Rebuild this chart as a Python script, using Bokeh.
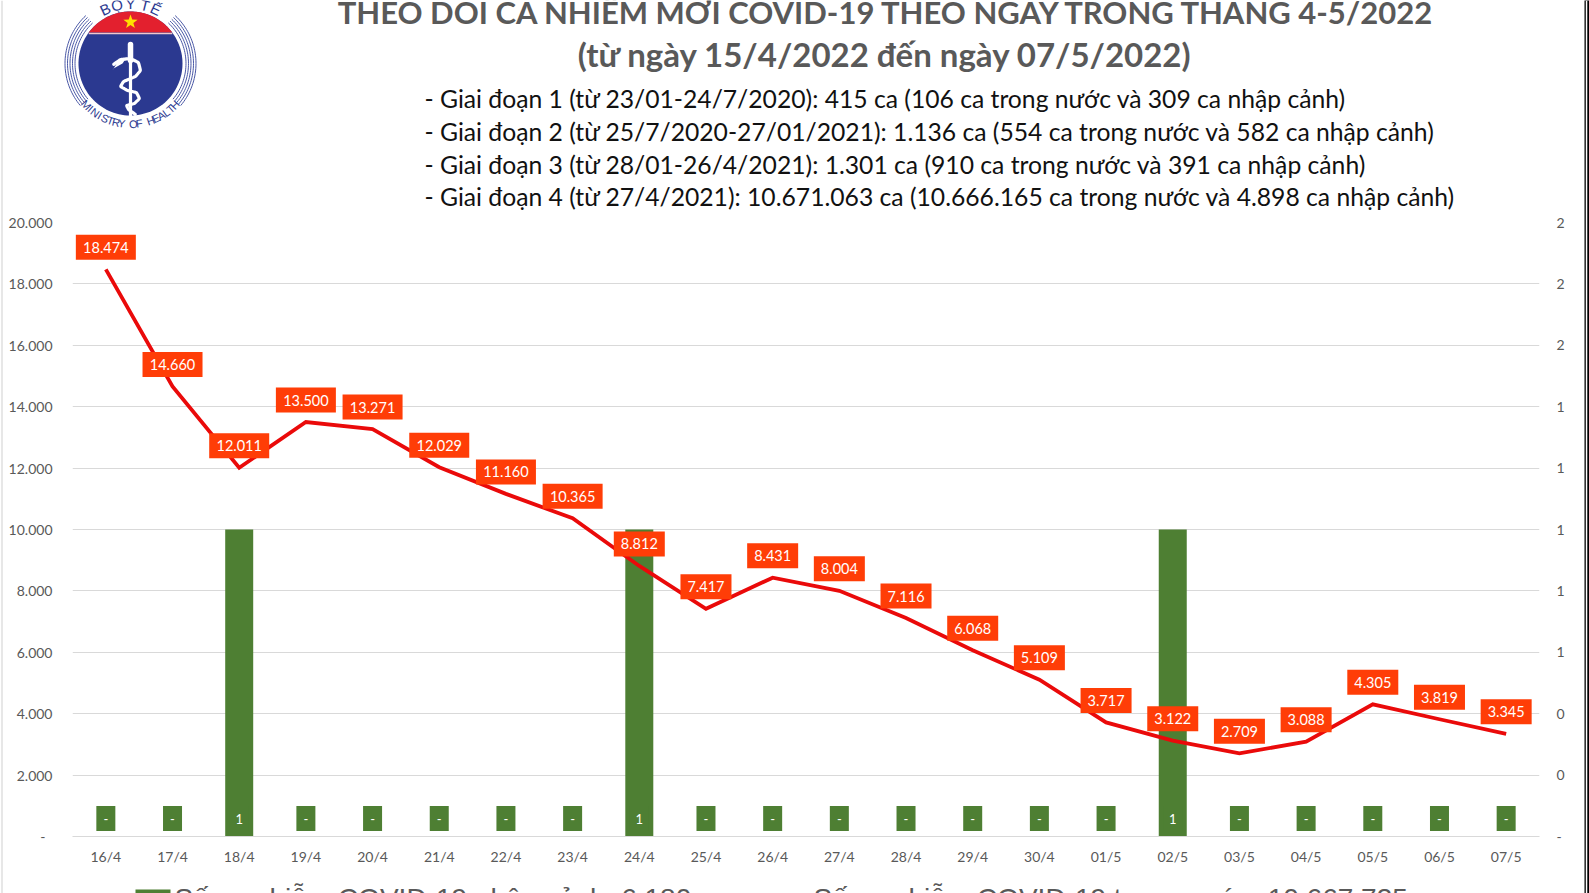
import numpy as np
from bokeh.plotting import figure
from bokeh.models import Range1d, FactorRange, LinearAxis, FixedTicker, ColumnDataSource, Grid
from bokeh.core.properties import value
from bokeh.embed import file_html
from bokeh.resources import INLINE

days = ["16/4","17/4","18/4","19/4","20/4","21/4","22/4","23/4","24/4","25/4","26/4",
        "27/4","28/4","29/4","30/4","01/5","02/5","03/5","04/5","05/5","06/5","07/5"]
domestic = [18474,14660,12011,13500,13271,12029,11160,10365,8812,7417,8431,
            8004,7116,6068,5109,3717,3122,2709,3088,4305,3819,3345]
imported = [0,0,1,0,0,0,0,0,1,0,0,0,0,0,0,0,1,0,0,0,0,0]
left_ticks = [0,2000,4000,6000,8000,10000,12000,14000,16000,18000,20000]
left_labels = ["-\u00a0\u00a0","2.000","4.000","6.000","8.000","10.000","12.000","14.000","16.000","18.000","20.000"]
right_ticks = [0,0.2,0.4,0.6,0.8,1.0,1.2,1.4,1.6,1.8,2.0]
right_labels = ["-","0","0","1","1","1","1","1","2","2","2"]
title_lines = ["THEO DÕI CA NHIỄM MỚI COVID-19 THEO NGÀY TRONG THÁNG 4-5/2022",
               "(từ ngày 15/4/2022 đến ngày 07/5/2022)"]
period_lines = ["- Giai đoạn 1 (từ 23/01-24/7/2020): 415 ca (106 ca trong nước và 309 ca nhập cảnh)",
                "- Giai đoạn 2 (từ 25/7/2020-27/01/2021): 1.136 ca (554 ca trong nước và 582 ca nhập cảnh)",
                "- Giai đoạn 3 (từ 28/01-26/4/2021): 1.301 ca (910 ca trong nước và 391 ca nhập cảnh)",
                "- Giai đoạn 4 (từ 27/4/2021): 10.671.063 ca (10.666.165 ca trong nước và 4.898 ca nhập cảnh)"]
legend_left = "Số ca nhiễm COVID-19 nhập cảnh: 6.180 ca"
legend_right = "Số ca nhiễm COVID-19 trong nước: 10.667.735 ca"

CAL = value("Lato")
GREY = "#595959"
GREEN = "#4E7F33"
ORANGE = "#FF3D07"
RED = "#EA0A0A"
GRID = "#D9D9D9"
NAVY = "#2B3990"
W, HEAD_H, CHART_H, FOOT_H = 1589, 212, 658, 23

def bare(w, h, xr, yr, **kw):
    f = figure(width=w, height=h, x_range=xr, y_range=yr, output_backend="svg",
               toolbar_location=None, min_border=0, outline_line_color=None,
               x_axis_type=None, y_axis_type=None, tools="", **kw)
    f.grid.visible = False
    return f

# ---------- header: page pixels ----------
h = bare(W, HEAD_H, Range1d(0, W), Range1d(HEAD_H, 0))
h.text([887], [11], text=[title_lines[0]], text_font=CAL, text_font_size="31px", text_font_style="bold",
       text_color=GREY, text_align="center", text_baseline="alphabetic")
h.text([885], [53], text=[title_lines[1]], text_font=CAL, text_font_size="33px", text_font_style="bold",
       text_color=GREY, text_align="center", text_baseline="alphabetic")
h.text([424]*4, [98, 131, 164, 196], text=period_lines, text_font=CAL, text_font_size="24.7px",
       text_color="#111111", text_align="left", text_baseline="alphabetic")

# logo
cx, cy, R = 130, 63, 52
for r in [55.5, 58, 60.5, 63, 65.5]:
    for a, b in [(-40, 47), (133, 220)]:
        th = np.radians(np.linspace(a, b, 40))
        h.line(cx + r*np.cos(th), cy - r*np.sin(th), line_color="#4A58A6", line_width=1)
th = np.linspace(0, 2*np.pi, 120)
h.patch(cx + R*np.cos(th), cy + R*np.sin(th), fill_color=NAVY, line_color=None)
a0 = np.arccos((cy - 32) / R)
ang = np.linspace(-a0, a0, 60)
h.patch(cx + R*np.sin(ang), cy - R*np.cos(ang), fill_color="#E3202E", line_color=None)
h.line([cx - R*np.sin(a0), cx + R*np.sin(a0)], [33, 33], line_color="#F0C8CC", line_width=1.6)
st = np.radians(np.arange(0, 360, 36) - 90)
st_r = np.where(np.arange(10) % 2 == 0, 7.5, 3)
h.patch(cx + st_r*np.cos(st), 21.5 + st_r*np.sin(st), fill_color="#FFE000", line_color=None)
h.line([cx, cx], [44, 116], line_color="white", line_width=3.2, line_cap="round")
h.line([cx, cx], [44, 60], line_color="white", line_width=5.5, line_cap="round")
sx = np.array([113, 120, 130, 138, 140, 135, 123, 120, 127, 136, 139, 134, 126, 128, 135])
sy = np.array([64, 59, 58, 62, 70, 76, 81, 86, 90, 92, 98, 103, 105, 109, 114])
t = np.arange(len(sx)); tt = np.linspace(0, len(sx)-1, 200)
def smooth(v):
    return np.array([np.sum(v*np.exp(-((u-t)/0.55)**2))/np.sum(np.exp(-((u-t)/0.55)**2)) for u in tt])
h.line(smooth(sx), smooth(sy), line_color="white", line_width=3.2, line_cap="round")
h.patch([112, 118, 126, 122, 113], [70, 60, 57, 63, 68], fill_color="white", line_color=None)
bottom = "MINISTRY OF HEALTH"
phi = np.radians(np.linspace(-47, 47, len(bottom)))
h.text(cx + 60.5*np.sin(phi), cy + 60.5*np.cos(phi), text=list(bottom), angle=phi, text_font=value("Liberation Sans"),
       text_font_size="11px", text_color=NAVY, text_align="center", text_baseline="middle")
phi2 = np.radians([-25, -13, 0, 14, 25])
h.text(cx + 60*np.sin(phi2), cy - 60*np.cos(phi2), text=list("BỘYTẾ"), angle=-phi2, text_font=value("Liberation Sans"),
       text_font_size="15px", text_color=NAVY, text_align="center", text_baseline="middle")

# ---------- chart ----------
p = figure(width=W, height=CHART_H, x_range=FactorRange(factors=days), y_range=Range1d(0, 20000),
           output_backend="svg", toolbar_location=None, tools="", min_border_top=10, min_border_bottom=34,
           min_border_left=72, min_border_right=50, outline_line_color=None, y_axis_type=None)
p.extra_y_ranges = {"imp": Range1d(0, 2)}
PX_PER_UNIT = 614 / 20000
PX_PER_IMP = 614 / 2
STEP = 1467 / 22

left = LinearAxis(ticker=FixedTicker(ticks=left_ticks),
                  major_label_overrides=dict(zip(left_ticks, left_labels)))
right = LinearAxis(y_range_name="imp", ticker=FixedTicker(ticks=right_ticks),
                   major_label_overrides=dict(zip(right_ticks, right_labels)))
for ax, st_off in ((left, 14), (right, 11)):
    ax.axis_line_color = None
    ax.major_tick_line_color = None
    ax.minor_tick_line_color = None
    ax.major_label_text_font = "Lato"
    ax.major_label_text_font_size = "14px"
    ax.major_label_text_color = GREY
    ax.major_label_standoff = st_off
p.add_layout(left, "left")
p.add_layout(right, "right")

xa = p.xaxis[0]
xa.axis_line_color = GRID
xa.major_tick_line_color = None
xa.minor_tick_line_color = None
xa.major_label_text_font = "Lato"
xa.major_label_text_font_size = "14px"
xa.major_label_text_color = GREY
xa.major_label_standoff = 5

p.xgrid.visible = False
p.add_layout(Grid(dimension=1, ticker=FixedTicker(ticks=left_ticks), grid_line_color=GRID, grid_line_width=1))

src = ColumnDataSource(dict(day=days, imported=imported, domestic=domestic,
                            imp_text=[str(v) if v else "-" for v in imported],
                            dom_text=[f"{v:,}".replace(",", ".") for v in domestic],
                            dom_w=[(60 if v >= 10000 else 51) / STEP for v in domestic],
                            box_y=[18 / PX_PER_IMP] * len(days),
                            lab_y=[v + 22 / PX_PER_UNIT for v in domestic]))
p.vbar(x="day", top="imported", bottom=0, width=28/STEP, source=src, y_range_name="imp", fill_color=GREEN, line_color=None)
p.rect(x="day", y="box_y", width=19/STEP, height=25/PX_PER_IMP, source=src, y_range_name="imp", fill_color=GREEN, line_color=None)
p.text(x="day", y="box_y", text="imp_text", source=src, y_range_name="imp", text_font=CAL, text_font_size="13px",
       text_color="white", text_align="center", text_baseline="middle")
p.line(x="day", y="domestic", source=src, line_color=RED, line_width=3.8, line_join="miter")
p.rect(x="day", y="lab_y", width="dom_w", height=25/PX_PER_UNIT, source=src, fill_color=ORANGE, line_color=None)
p.text(x="day", y="lab_y", text="dom_text", source=src, text_font=CAL, text_font_size="14.5px",
       text_color="white", text_align="center", text_baseline="middle")

# ---------- legend strip, cut by the page bottom as in the source image ----------
f = bare(W, FOOT_H, Range1d(0, W), Range1d(893, 870))
f.quad(left=[135], right=[170], top=[889], bottom=[900], fill_color=GREEN, line_color=None)
f.text([174], [898], text=[legend_left], text_font=value("Liberation Sans"), text_font_size="28px",
       text_color=GREY, text_align="left", text_baseline="alphabetic")
f.text([813], [898], text=[legend_right], text_font=value("Liberation Sans"), text_font_size="28px",
       text_color=GREY, text_align="left", text_baseline="alphabetic")

# ---------- page edges ----------
ls = bare(3, 893, Range1d(0, 3), Range1d(0, 1), styles={"position": "absolute", "left": "0px", "top": "0px"})
ls.quad(left=[1], right=[2], top=[1], bottom=[0], fill_color="#D0D0D0", line_color=None)
rs = bare(5, 893, Range1d(0, 5), Range1d(0, 1), styles={"position": "absolute", "left": "1584px", "top": "0px"})
rs.background_fill_color = "black"
rs.quad(left=[1.3], right=[2.8], top=[1], bottom=[0], fill_color="white", line_color=None)

open("out.html", "w").write(file_html([h, p, f, ls, rs], INLINE))
